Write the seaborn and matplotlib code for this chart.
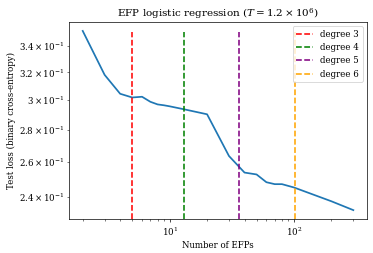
import matplotlib
matplotlib.use('Agg')

import pandas as pd
import matplotlib.pyplot as plt
import seaborn as sns

plt.rcParams['font.family'] = ['DejaVu Serif']
plt.rcParams['mathtext.fontset'] = 'dejavuserif'

# 数据
n_efps = [2, 3, 4, 5, 6, 7, 8, 9, 10, 13, 20, 30, 40, 50, 60, 70, 80, 100, 200, 300]
test_loss = [0.3521, 0.3181, 0.3045, 0.3019, 0.3024, 0.2989, 0.2971, 0.2965, 0.2958,
             0.2938, 0.2904, 0.2637, 0.2538, 0.2527, 0.2482, 0.2471, 0.2471, 0.2452,
             0.2375, 0.2327]
degree_labels = ['degree 3', 'degree 4', 'degree 5', 'degree 6']
degree_cuts = [5, 13, 36, 102]
degree_colors = ['red', 'green', 'purple', 'orange']

df = pd.DataFrame({'n': n_efps, 'loss': test_loss})

fig = plt.figure(figsize=(6.0, 4.06), dpi=62.33)
ax = fig.add_subplot(111)
fig.subplots_adjust(left=0.185, right=0.981, top=0.913, bottom=0.134)

sns.lineplot(data=df, x='n', y='loss', ax=ax, color='#1f77b4', estimator=None, linewidth=2)
for lab, cut, col in zip(degree_labels, degree_cuts, degree_colors):
    ax.axvline(cut, ymax=0.95, color=col, linestyle='--', linewidth=1.8, label=lab)

ax.set_xscale('log')
ax.set_yscale('log')
ax.set_xlabel('Number of EFPs')
ax.set_ylabel('Test loss (binary cross-entropy)')
ax.set_title(r'EFP logistic regression ($T = 1.2 \times 10^6$)')
ax.legend(loc='upper right')

plt.savefig('out.png', dpi=62.33)
plt.close()
